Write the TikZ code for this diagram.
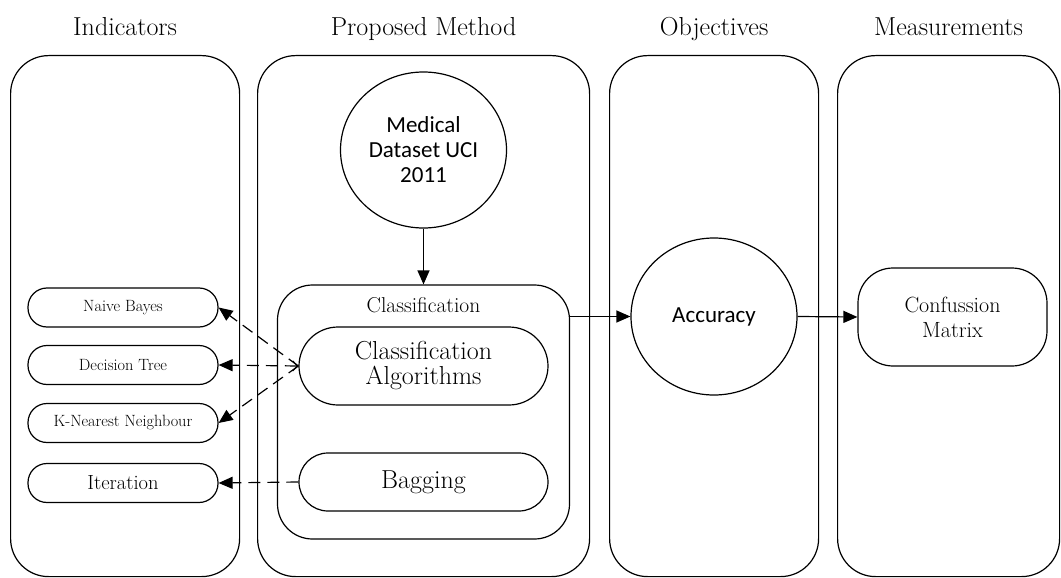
\documentclass[tikz,border=0pt]{standalone}
\usepackage{fontspec}
\newfontfamily\calibri{Carlito}
\usetikzlibrary{arrows.meta,shapes.geometric,positioning}

\begin{document}
\begin{tikzpicture}[x=1pt,y=-1pt,line width=1.2pt,
        colbox/.style={draw, rounded corners=38pt, minimum width=#1, minimum height=521pt, anchor=north west, inner sep=0pt},
        heading/.style={font=\fontsize{26}{30}\selectfont, anchor=base, inner sep=0pt},
        blob/.style={draw, ellipse, minimum width=166pt, minimum height=156pt, inner sep=0pt, align=center, font=\calibri\fontsize{23}{25}\selectfont},
        pill/.style={draw, rounded corners=19pt, minimum width=190pt, minimum height=39pt, inner sep=0pt, font=\fontsize{16.3}{18}\selectfont},
        stadium/.style={draw, minimum width=249pt, inner sep=0pt, align=center, font=\fontsize{26}{25}\selectfont},
        flow/.style={-{Triangle[length=14pt,width=12pt]}},
        hint/.style={flow, dash pattern=on 12pt off 7pt}]
        \useasboundingbox (0,0) rectangle (1061,578);
        % columns
        \node[colbox=229pt] (ind) at (10,55) {};
        \node[colbox=332pt] (prop) at (257,55) {};
        \node[colbox=209pt] (obj) at (609,55) {};
        \node[colbox=222pt] (meas) at (837,55) {};
        \coordinate (titleline) at (0,36);
        \node[heading] (tind) at (ind.north |- titleline) {Indicators};
        \node[heading] (tprop) at (prop.north |- titleline) {Proposed Method};
        \node[heading] (tobj) at (obj.north |- titleline) {Objectives};
        \node[heading] (tmeas) at (meas.north |- titleline) {Measurements};
        % proposed method
        \node[blob] (med) at (423.5,150) {Medical\\Dataset UCI\\2011};
        \node[draw, rounded corners=35pt, minimum width=292pt, minimum height=254pt, inner sep=0pt] (cls) at (423.5,412) {};
        \node[below=12pt of cls.north, inner sep=0pt, font=\fontsize{21.5}{24}\selectfont] (clstitle) {Classification};
        \node[stadium, rounded corners=39pt, minimum height=78pt] (alg) at (423.5,366) {Classification\\Algorithms};
        \node[stadium, rounded corners=29pt, minimum height=58pt] (bag) at (423.5,482) {Bagging};
        % indicators
        \node[pill] (nb) at (123,307.5) {Naive Bayes};
        \node[pill] (dt) at (123,365) {Decision Tree};
        \node[pill] (knn) at (123,423) {K-Nearest Neighbour};
        \node[pill, font=\fontsize{20.5}{22}\selectfont] (it) at (123,483) {Iteration};
        % objectives and measurements
        \node[blob, minimum height=157pt] (acc) at (714,316.5) {Accuracy};
        \node[draw, rounded corners=35pt, minimum width=189pt, minimum height=98pt, inner sep=0pt, align=center, font=\fontsize{22}{25}\selectfont] (cm) at (952.5,317) {Confussion\\Matrix};
        % connectors
        \draw[flow] (med.south) -- (cls.north);
        \draw[hint] (alg.west) -- (nb.east);
        \draw[hint, {Straight Barb[length=5pt,width=10pt]}-{Triangle[length=14pt,width=12pt]}] (alg.west) -- (dt.east);
        \draw[hint] (alg.west) -- (knn.east);
        \draw[hint] (bag.west) -- (it.east);
        \draw[flow] (cls.east |- acc.west) -- (acc.west);
        \draw[flow] (acc.east) -- (cm.west);
\end{tikzpicture}
\end{document}
